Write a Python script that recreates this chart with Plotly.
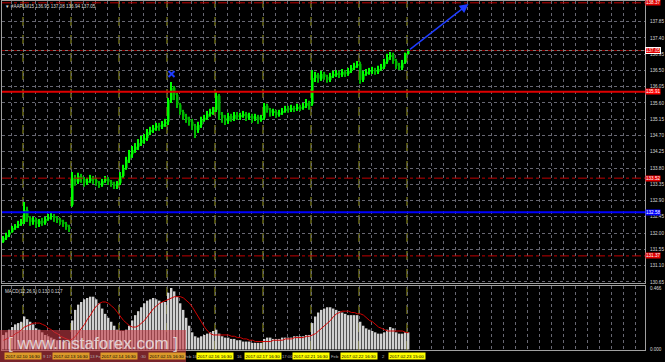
import plotly.graph_objects as go

# ---------------- data ----------------
symbol = "#AAPLM15"
header_ohlc = [136.95, 137.08, 136.94, 137.05]

opens = [131.76, 131.87, 131.95, 132.03, 132.14, 132.20, 132.25, 132.31, 132.64, 132.42,
         132.31, 132.37, 132.25, 132.34, 132.28, 132.39, 132.45, 132.47, 132.42, 132.37,
         132.31, 132.25, 132.17, 132.78, 133.53, 133.42, 133.58, 133.50, 133.39, 133.44,
         133.53, 133.47, 133.39, 133.33, 133.44, 133.50, 133.42, 133.36, 133.31, 133.39,
         133.58, 133.80, 134.03, 134.18, 134.30, 134.39, 134.49, 134.58, 134.63, 134.80,
         134.85, 134.91, 134.97, 134.94, 135.02, 135.08, 135.68, 136.02, 135.82, 135.55,
         135.35, 135.22, 135.13, 135.08, 134.97, 134.85, 134.99, 135.13, 135.19, 135.30,
         135.35, 135.41, 135.80, 135.27, 135.19, 135.10, 135.24, 135.16, 135.27, 135.22,
         135.24, 135.30, 135.19, 135.24, 135.16, 135.22, 135.13, 135.19, 135.52, 135.41,
         135.33, 135.35, 135.27, 135.33, 135.38, 135.44, 135.41, 135.46, 135.44, 135.49,
         135.46, 135.52, 135.60, 135.58, 136.29, 136.38, 136.27, 136.40, 136.32, 136.24,
         136.35, 136.40, 136.43, 136.38, 136.46, 136.40, 136.49, 136.57, 136.63, 136.68,
         136.24, 136.40, 136.46, 136.49, 136.51, 136.46, 136.54, 136.60, 136.74, 136.87,
         136.93, 136.76, 136.63, 136.57, 136.71, 136.95]
closes = [131.87, 131.95, 132.03, 132.14, 132.20, 132.25, 132.31, 132.64, 132.42, 132.31,
          132.37, 132.25, 132.34, 132.28, 132.39, 132.45, 132.47, 132.42, 132.37, 132.31,
          132.25, 132.17, 132.12, 133.53, 133.42, 133.58, 133.50, 133.39, 133.44, 133.53,
          133.47, 133.39, 133.33, 133.44, 133.50, 133.42, 133.36, 133.31, 133.39, 133.58,
          133.80, 134.03, 134.18, 134.30, 134.39, 134.49, 134.58, 134.63, 134.80, 134.85,
          134.91, 134.97, 134.94, 135.02, 135.08, 135.68, 136.02, 135.82, 135.55, 135.35,
          135.22, 135.13, 135.08, 134.97, 134.85, 134.99, 135.13, 135.19, 135.30, 135.35,
          135.41, 135.80, 135.27, 135.19, 135.10, 135.24, 135.16, 135.27, 135.22, 135.24,
          135.30, 135.19, 135.24, 135.16, 135.22, 135.13, 135.19, 135.52, 135.41, 135.33,
          135.35, 135.27, 135.33, 135.38, 135.44, 135.41, 135.46, 135.44, 135.49, 135.46,
          135.52, 135.60, 135.49, 136.29, 136.38, 136.27, 136.40, 136.32, 136.24, 136.35,
          136.40, 136.43, 136.38, 136.46, 136.40, 136.49, 136.57, 136.63, 136.68, 136.24,
          136.40, 136.46, 136.49, 136.51, 136.46, 136.54, 136.60, 136.74, 136.87, 136.93,
          136.76, 136.63, 136.57, 136.71, 136.95, 137.05]
highs = [131.92, 132.01, 132.09, 132.20, 132.25, 132.34, 132.39, 132.86, 132.73, 132.47,
         132.45, 132.42, 132.39, 132.42, 132.45, 132.53, 132.56, 132.53, 132.47, 132.42,
         132.37, 132.31, 132.23, 133.69, 133.61, 133.67, 133.64, 133.55, 133.53, 133.61,
         133.58, 133.53, 133.44, 133.50, 133.58, 133.55, 133.47, 133.42, 133.44, 133.69,
         133.89, 134.11, 134.30, 134.41, 134.49, 134.60, 134.69, 134.74, 134.88, 134.94,
         134.99, 135.05, 135.05, 135.10, 135.16, 135.74, 136.18, 136.07, 135.88, 135.60,
         135.41, 135.30, 135.22, 135.16, 135.02, 135.08, 135.22, 135.27, 135.38, 135.44,
         135.49, 135.91, 135.85, 135.35, 135.27, 135.33, 135.30, 135.35, 135.35, 135.33,
         135.38, 135.35, 135.33, 135.30, 135.30, 135.27, 135.27, 135.60, 135.58, 135.46,
         135.44, 135.41, 135.41, 135.46, 135.52, 135.52, 135.55, 135.52, 135.58, 135.55,
         135.60, 135.71, 135.66, 136.51, 136.46, 136.43, 136.49, 136.46, 136.38, 136.43,
         136.49, 136.51, 136.49, 136.54, 136.51, 136.57, 136.65, 136.71, 136.76, 136.74,
         136.49, 136.54, 136.57, 136.60, 136.57, 136.63, 136.68, 136.82, 136.96, 137.01,
         136.99, 136.82, 136.71, 136.79, 136.99, 137.08]
lows = [131.73, 131.81, 131.89, 132.01, 132.09, 132.14, 132.20, 132.25, 132.31, 132.20,
        132.23, 132.14, 132.17, 132.20, 132.23, 132.34, 132.37, 132.31, 132.28, 132.23,
        132.17, 132.09, 132.03, 132.73, 133.31, 133.36, 133.39, 133.28, 133.33, 133.39,
        133.36, 133.31, 133.25, 133.28, 133.39, 133.33, 133.28, 133.22, 133.22, 133.33,
        133.53, 133.75, 133.94, 134.08, 134.22, 134.30, 134.41, 134.47, 134.55, 134.71,
        134.77, 134.83, 134.83, 134.88, 134.94, 134.99, 135.60, 135.68, 135.46, 135.27,
        135.13, 135.05, 134.97, 134.85, 134.63, 134.77, 134.91, 135.08, 135.13, 135.22,
        135.27, 135.35, 135.13, 135.05, 134.99, 135.02, 135.08, 135.10, 135.13, 135.13,
        135.19, 135.10, 135.13, 135.05, 135.10, 135.02, 135.08, 135.13, 135.33, 135.22,
        135.24, 135.19, 135.22, 135.27, 135.33, 135.33, 135.35, 135.35, 135.38, 135.38,
        135.41, 135.46, 135.41, 135.52, 136.18, 136.16, 136.21, 136.24, 136.16, 136.18,
        136.29, 136.32, 136.29, 136.32, 136.32, 136.35, 136.43, 136.51, 136.57, 136.13,
        136.18, 136.35, 136.38, 136.40, 136.38, 136.40, 136.49, 136.54, 136.68, 136.79,
        136.68, 136.54, 136.51, 136.51, 136.68, 136.94]

macd = [0.11, 0.13, 0.15, 0.17, 0.19, 0.20, 0.21, 0.25, 0.23, 0.21,
        0.19, 0.16, 0.15, 0.13, 0.11, 0.10, 0.09, 0.08, 0.07, 0.07,
        0.06, 0.06, 0.05, 0.22, 0.30, 0.34, 0.36, 0.38, 0.39, 0.40,
        0.40, 0.38, 0.35, 0.31, 0.27, 0.24, 0.21, 0.18, 0.15, 0.14,
        0.14, 0.15, 0.18, 0.22, 0.26, 0.29, 0.32, 0.35, 0.37, 0.38,
        0.39, 0.38, 0.37, 0.36, 0.36, 0.43, 0.466, 0.44, 0.40, 0.35,
        0.30, 0.24, 0.18, 0.13, 0.10, 0.09, 0.10, 0.11, 0.12, 0.13,
        0.14, 0.15, 0.12, 0.10, 0.09, 0.09, 0.08, 0.08, 0.07, 0.07,
        0.06, 0.06, 0.06, 0.05, 0.05, 0.05, 0.05, 0.08, 0.09, 0.09,
        0.08, 0.08, 0.08, 0.09, 0.09, 0.09, 0.09, 0.10, 0.10, 0.10,
        0.10, 0.11, 0.11, 0.20, 0.25, 0.28, 0.30, 0.31, 0.32, 0.32,
        0.31, 0.30, 0.29, 0.28, 0.27, 0.26, 0.26, 0.26, 0.26, 0.21,
        0.18, 0.16, 0.15, 0.14, 0.13, 0.12, 0.12, 0.13, 0.15, 0.17,
        0.16, 0.13, 0.12, 0.12, 0.13, 0.130]
signal = [0.07, 0.08, 0.09, 0.10, 0.12, 0.13, 0.15, 0.17, 0.18, 0.19,
          0.20, 0.20, 0.20, 0.19, 0.18, 0.16, 0.15, 0.13, 0.12, 0.10,
          0.09, 0.08, 0.07, 0.08, 0.10, 0.13, 0.16, 0.19, 0.23, 0.26,
          0.30, 0.33, 0.35, 0.36, 0.36, 0.35, 0.33, 0.31, 0.28, 0.25,
          0.22, 0.20, 0.18, 0.17, 0.17, 0.18, 0.20, 0.22, 0.25, 0.28,
          0.31, 0.33, 0.35, 0.36, 0.37, 0.38, 0.39, 0.40, 0.40, 0.40,
          0.39, 0.37, 0.35, 0.32, 0.28, 0.24, 0.20, 0.17, 0.14, 0.12,
          0.11, 0.11, 0.11, 0.11, 0.11, 0.11, 0.10, 0.10, 0.09, 0.09,
          0.08, 0.08, 0.07, 0.07, 0.06, 0.06, 0.06, 0.06, 0.06, 0.06,
          0.07, 0.07, 0.07, 0.07, 0.08, 0.08, 0.08, 0.09, 0.09, 0.09,
          0.09, 0.10, 0.10, 0.11, 0.12, 0.14, 0.16, 0.18, 0.20, 0.22,
          0.25, 0.27, 0.28, 0.29, 0.29, 0.29, 0.28, 0.28, 0.27, 0.27,
          0.26, 0.24, 0.22, 0.21, 0.19, 0.17, 0.16, 0.15, 0.14, 0.14,
          0.14, 0.14, 0.14, 0.14, 0.13, 0.127]

price_ticks = [130.65, 131.10, 131.55, 132.00, 132.45, 132.90, 133.35, 133.80, 134.25,
               134.70, 135.15, 135.60, 136.05, 136.50, 136.95, 137.40, 137.85]
macd_ticks = [0.0, 0.466]
macd_tick_text = ["0.000", "0.466"]

red_dash_levels = [138.37, 133.52, 131.37]
red_solid_levels = [135.91]
blue_levels = [132.58]
bid_level = 137.05

day_starts = [7, 23, 39, 55, 71, 87, 103, 119, 135]
day_labels = ["2017.02.10 16:30", "2017.02.13 16:30", "2017.02.14 16:30",
              "2017.02.15 16:30", "2017.02.16 16:30", "2017.02.17 16:30",
              "2017.02.21 16:30", "2017.02.22 16:30", "2017.02.23 15:00"]
gap_labels = ["9 17:", "13 Fe", ":30", "Feb 16", "16", "17:00", "Feb", "2"]

x_marker = [56]
y_marker = [136.40]
arrow_from = (135, 137.05)
arrow_to = (155, 138.34)

# ---------------- layout helpers (pixels -> paper) ----------------
W, H = 665, 362
L, R, T, B = 2, 20, 1, 12
PW, PH = W - L - R, H - T - B
def px(xp):
    return (xp - L) / PW
def py(yp):
    return (H - B - yp) / PH

n = len(closes)
xs = list(range(n))
bar_px = 3.0
x_range = [-0.5, -0.5 + PW / bar_px]

grid_col = "#676772"
frame_col = "#a0a0a0"
small_font = dict(family="Liberation Sans", size=4.6, color="#d8d8d8")

# candle geometry from the OHLC lists
up = [c >= o for o, c in zip(opens, closes)]
body_base = [min(o, c) for o, c in zip(opens, closes)]
body_len = [max(abs(c - o), 0.012) for o, c in zip(opens, closes)]
wick_len = [h - l for h, l in zip(highs, lows)]
up_col, dn_col = "#00ff00", "#00b800"
col = [up_col if u else dn_col for u in up]

fig = go.Figure()
fig.add_trace(go.Bar(x=xs, y=wick_len, base=lows, width=0.34,
                     marker=dict(color=col, line=dict(width=0)),
                     xaxis="x", yaxis="y", showlegend=False, hoverinfo="skip"))
fig.add_trace(go.Bar(x=xs, y=body_len, base=body_base, width=0.68,
                     marker=dict(color=col, line=dict(width=0)),
                     xaxis="x", yaxis="y", showlegend=False, hoverinfo="skip"))
fig.add_trace(go.Scatter(
    x=x_marker, y=y_marker, mode="markers",
    marker=dict(symbol="x-thin", size=6, line=dict(color="#1e3cff", width=2)),
    xaxis="x", yaxis="y", showlegend=False, hoverinfo="skip"))
fig.add_trace(go.Bar(
    x=xs, y=macd, width=0.6, marker=dict(color="#d0d0d0", line=dict(width=0)),
    xaxis="x2", yaxis="y2", showlegend=False, hoverinfo="skip"))
fig.add_trace(go.Scatter(
    x=xs, y=signal, mode="lines", line=dict(color="#d00000", width=1),
    xaxis="x2", yaxis="y2", showlegend=False, hoverinfo="skip"))

shapes = []
annotations = []

# day separators (both panels)
for d in day_starts:
    shapes.append(dict(type="line", xref="x", yref="paper", x0=d - 0.5, x1=d - 0.5,
                       y0=0, y1=1, line=dict(color="#a0a020", width=1, dash="dash"),
                       layer="below"))

def level_label(v, bg, border=None):
    a = dict(xref="paper", x=1.0, xanchor="left", yref="y", y=v, yanchor="middle",
             text="%.2f" % v, showarrow=False, bgcolor=bg, borderpad=0,
             font=dict(family="Liberation Sans", size=4.6, color="#ffffff"))
    if border:
        a["bordercolor"] = border
        a["borderwidth"] = 1
    annotations.append(a)

for v in red_dash_levels:
    shapes.append(dict(type="line", xref="paper", yref="y", x0=0, x1=1, y0=v, y1=v,
                       line=dict(color="#c00000", width=1, dash="dashdot")))
    level_label(v, "#e00000")
for v in red_solid_levels:
    shapes.append(dict(type="line", xref="paper", yref="y", x0=0, x1=1, y0=v, y1=v,
                       line=dict(color="#e00000", width=2)))
    level_label(v, "#ff0000")
for v in blue_levels:
    shapes.append(dict(type="line", xref="paper", yref="y", x0=0, x1=1, y0=v, y1=v,
                       line=dict(color="#0000ff", width=2)))
    level_label(v, "#0000ff")
shapes.append(dict(type="line", xref="paper", yref="y", x0=0, x1=1, y0=bid_level,
                   y1=bid_level, line=dict(color="#808080", width=1)))
shapes.append(dict(type="line", xref="paper", yref="y", x0=0, x1=1, y0=bid_level,
                   y1=bid_level, line=dict(color="#900000", width=1, dash="dot")))
level_label(bid_level, "#e00000", border="#ffffff")

# trend arrow
annotations.append(dict(xref="x", yref="y", axref="x", ayref="y",
                        x=arrow_to[0], y=arrow_to[1], ax=arrow_from[0], ay=arrow_from[1],
                        showarrow=True, arrowhead=2, arrowsize=1.2, arrowwidth=1.5,
                        arrowcolor="#1e3cff", text=""))

# header
annotations.append(dict(xref="paper", yref="paper", x=px(3), y=py(2), xanchor="left",
                        yanchor="top", showarrow=False,
                        text="\u25bc " + symbol + " " + " ".join("%.2f" % v for v in header_ohlc),
                        font=small_font))
# MACD label
annotations.append(dict(xref="paper", yref="paper", x=px(3), y=py(287), xanchor="left",
                        yanchor="top", showarrow=False,
                        text="MACD(12,26,9) %.3f %.3f" % (macd[-1], signal[-1]),
                        font=small_font))

# bottom time labels
for k, t in enumerate(gap_labels):
    xm = (day_starts[k] + day_starts[k + 1]) / 2 - 0.5
    annotations.append(dict(xref="x", yref="paper", x=xm, y=py(356), xanchor="center",
                            yanchor="middle", showarrow=False, text=t,
                            font=dict(family="Liberation Sans", size=4.2, color="#b0b0b0")))
for d, t in zip(day_starts, day_labels):
    xpix = L + bar_px * (d - x_range[0] - 0.5)
    bg = "#dc9a2a" if xpix < 186 else "#ffff00"
    annotations.append(dict(xref="x", yref="paper", x=d - 0.5, y=py(356), xanchor="center",
                            yanchor="middle", showarrow=False, text=t, bgcolor=bg,
                            borderpad=0.5,
                            font=dict(family="Liberation Sans", size=4.4, color="#000000")))

# watermark
shapes.append(dict(type="rect", xref="paper", yref="paper", x0=px(0), x1=px(186),
                   y0=py(362), y1=py(330), fillcolor="rgba(200,60,70,0.6)",
                   line=dict(width=0), layer="above"))
annotations.append(dict(xref="paper", yref="paper", x=px(93), y=py(343), xanchor="center",
                        yanchor="middle", showarrow=False, text="[ www.instaforex.com ]",
                        font=dict(family="Liberation Sans", size=17,
                                  color="rgba(235,235,235,0.8)")))

axis_common = dict(showgrid=True, gridcolor=grid_col, griddash="dot", gridwidth=1,
                   zeroline=False, showline=True, linecolor=frame_col, linewidth=1,
                   mirror=True, automargin=False)

fig.update_layout(
    width=W, height=H, margin=dict(l=L, r=R, t=T, b=B),
    paper_bgcolor="#000000", plot_bgcolor="#000000", template="none",
    showlegend=False, barmode="overlay",
    xaxis=dict(domain=[0, 1], range=x_range, anchor="y", showticklabels=False,
               tick0=6.5, dtick=4, ticks="", **axis_common),
    yaxis=dict(domain=[py(283), 1], range=[130.62, 138.42], side="right", anchor="x",
               tickvals=price_ticks, ticktext=["%.2f" % v for v in price_ticks],
               tickfont=small_font, ticks="", ticklabelstandoff=3, **axis_common),
    xaxis2=dict(domain=[0, 1], range=x_range, anchor="y2", matches="x",
                showticklabels=False, tick0=6.5, dtick=4, ticks="", **axis_common),
    yaxis2=dict(domain=[0, py(286)], range=[-0.004, 0.481], side="right", anchor="x2",
                tickvals=macd_ticks, ticktext=macd_tick_text, tickfont=small_font,
                ticks="", ticklabelstandoff=3,
                **{**axis_common, "showgrid": False}),
    shapes=shapes, annotations=annotations,
)

fig.write_html("out.html")
